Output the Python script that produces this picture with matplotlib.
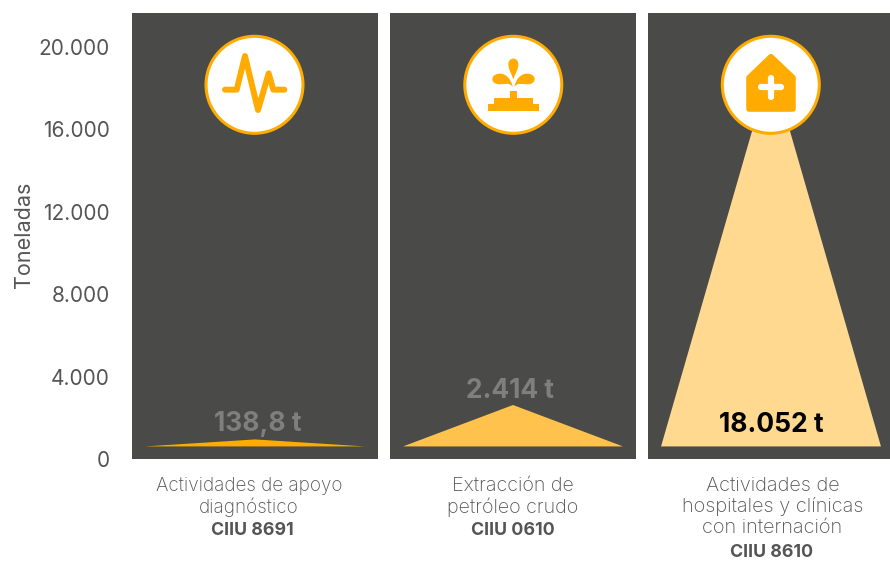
import matplotlib
matplotlib.use("Agg")
import matplotlib.pyplot as plt
from matplotlib.patches import Circle, PathPatch, Polygon, Rectangle
from matplotlib.path import Path

plt.rcParams['font.family'] = ['Inter', 'DejaVu Sans']

W, H = 890, 563
categories = ["Actividades de apoyo\ndiagnóstico", "Extracción de\npetróleo crudo",
              "Actividades de\nhospitales y clínicas\ncon internación"]
codes = ["CIIU 8691", "CIIU 0610", "CIIU 8610"]
value_labels = ["138,8 t", "2.414 t", "18.052 t"]
# apex and base of the triangles
apex_values = [950, 2620, 19100]
base_value = 610
y_ticks = [0, 4000, 8000, 12000, 16000, 20000]
y_ticklabels = ["0", "4.000", "8.000", "12.000", "16.000", "20.000"]

# layout
panel_left = [132, 390, 648]
panel_w = 246
label_y = [1690, 3320, 1640]
label_dx = [0.012, -0.012, 0]
cat_dx = [-0.024, 0, 0.006]
cat_size = [13.6, 14.2, 14.4]
code_dx = [-0.012, 0, 0.004]
tri_colors = ["#FFAB00", "#FFC34D", "#FFD990"]
label_colors = ["#7f7f7f", "#7f7f7f", "#000000"]
bg = "#4A4A48"
orange = "#FFAB00"
text_col = "#555555"

fig = plt.figure(figsize=(W / 100, H / 100), dpi=100)

for i in range(3):
    ax = fig.add_axes([panel_left[i] / W, (H - 459) / H, panel_w / W, 446 / H])
    ax.set_facecolor(bg)
    ax.set_xlim(-0.5, 0.5)
    ax.set_ylim(0, 21640)
    for s in ax.spines.values():
        s.set_visible(False)
    ax.set_xticks([])
    ax.fill([-0.447, 0, 0.447], [base_value, apex_values[i], base_value], color=tri_colors[i], lw=0)
    ax.text(label_dx[i], label_y[i], value_labels[i], ha='center', va='center', fontsize=19,
            fontweight='bold', color=label_colors[i])
    if i == 0:
        ax.set_yticks(y_ticks)
        ax.set_yticklabels(y_ticklabels, fontsize=15, color=text_col)
        ax.tick_params(axis='y', length=0, pad=16)
        ax.set_ylabel("Toneladas", fontsize=15.5, color=text_col)
        ax.yaxis.set_label_coords((34 - 132) / 246, 0.502)
    else:
        ax.set_yticks([])
    ax.text(cat_dx[i], -850, categories[i], ha='center', va='top', fontsize=cat_size[i],
            color=text_col, linespacing=1.18, fontweight='light', clip_on=False)
    n = categories[i].count("\n") + 1
    ax.text(code_dx[i], -880 - n * 1085, codes[i], ha='center', va='top', fontsize=12.8,
            fontweight='bold', color=text_col, clip_on=False)

# icons, in pixel coordinates
over = fig.add_axes([0, 0, 1, 1])
over.set_xlim(0, W)
over.set_ylim(H, 0)
over.axis('off')
over.patch.set_alpha(0)

centers = [(254.5, 84.8), (513.3, 84.8), (770.8, 84.8)]
for c in centers:
    over.add_patch(Circle(c, 48.5, fc='white', ec=orange, lw=2.2))


def zoomed(pts, ox, oy):
    return [(ox + x / 3, oy + y / 3) for x, y in pts]


pulse = zoomed([(105, 209), (140, 209), (165, 108), (204, 270), (236, 160), (250, 209), (283, 209)], 190, 20)
over.add_patch(Polygon(pulse, closed=False, fill=False, ec=orange, lw=4.3, joinstyle='round', capstyle='round'))

for x0, y0, x1, y1 in [(114, 253, 267, 273), (132, 233, 249, 253), (180, 213, 201, 233)]:
    (a, b), (c, d) = zoomed([(x0, y0), (x1, y1)], 450, 20)
    over.add_patch(Rectangle((a, b), c - a, d - b, fc=orange, lw=0))

top_drop = [(190, 178), (184, 160), (175, 148), (175, 133), (175, 110), (205, 110), (205, 133), (205, 148), (196, 160), (190, 178)]
left_drop = [(188, 200), (176, 186), (165, 193), (148, 193), (136, 193), (127, 187), (127, 177),
             (127, 167), (138, 161), (150, 161), (170, 161), (184, 180), (188, 200)]
right_drop = [(381 - x, y) for x, y in left_drop]
over.add_patch(PathPatch(Path(zoomed(top_drop, 450, 20), [Path.MOVETO] + [Path.CURVE4] * 9), fc=orange, lw=0))
for d in [left_drop, right_drop]:
    over.add_patch(PathPatch(Path(zoomed(d, 450, 20), [Path.MOVETO] + [Path.CURVE4] * 12), fc=orange, lw=0))

house = zoomed([(198, 110), (264, 173), (264, 267), (132, 267), (132, 173)], 705, 20)
over.add_patch(Polygon(house, closed=True, fc=orange, ec=orange, lw=4, joinstyle='round'))
for seg in [[(168, 202), (227, 202)], [(197, 173), (197, 232)]]:
    over.add_patch(Polygon(zoomed(seg, 705, 20), closed=False, fill=False, ec='white', lw=4.5, capstyle='round'))

fig.savefig("out.png", dpi=100, facecolor='white')
